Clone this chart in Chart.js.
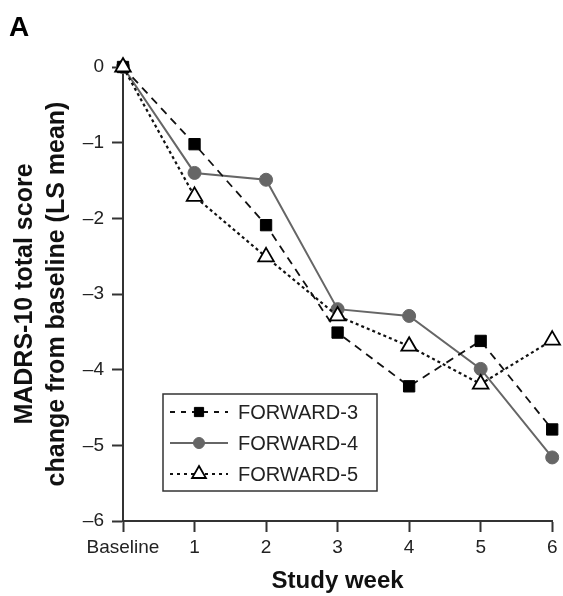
<!DOCTYPE html>
<html lang="en">
<head>
<meta charset="utf-8">
<title>MADRS-10 change from baseline</title>
<script src="https://cdn.jsdelivr.net/npm/chart.js"></script>
<style>
  html,body{margin:0;padding:0;background:#fff;}
  #wrap{position:relative;width:563px;height:596px;}
  #panel{position:absolute;left:9px;top:11px;font:bold 28px "Liberation Sans",Arial,sans-serif;color:#000;line-height:32px;}
  canvas{display:block;}
</style>
</head>
<body>
<div id="wrap">
  <div id="panel">A</div>
  <canvas id="myChart" width="563" height="596"></canvas>
</div>
<script>
/* ── data ─────────────────────────────────────────── */
const weekLabels = ['Baseline', '1', '2', '3', '4', '5', '6'];
const forward3 = [0, -1.02, -2.09, -3.51, -4.22, -3.62, -4.79];
const forward4 = [0, -1.40, -1.49, -3.20, -3.29, -3.99, -5.16];
const forward5 = [0, -1.71, -2.51, -3.29, -3.69, -4.19, -3.61];
const seriesNames = ['FORWARD-3', 'FORWARD-4', 'FORWARD-5'];

const FONT = '"Liberation Sans", Arial, sans-serif';
const AXIS = '#333';

/* ── legend drawn inside the plot box ─────────────── */
const legendMarks = [
  {radius: 6.5, dash: [5, 6]},
  {radius: 5.5, dash: []},
  {radius: 8,   dash: [3, 4]}
];
const boxLegend = {
  id: 'boxLegend',
  afterDatasetsDraw(chart){
    const ctx = chart.ctx;
    const x0 = 163, y0 = 394, w = 214, h = 97;
    ctx.save();
    ctx.fillStyle = '#fff';
    ctx.fillRect(x0, y0, w, h);
    ctx.strokeStyle = '#333';
    ctx.lineWidth = 1.5;
    ctx.strokeRect(x0, y0, w, h);
    chart.data.datasets.forEach((ds, i) => {
      const yy = y0 + 18 + i * 31;
      const m = legendMarks[i];
      ctx.beginPath();
      ctx.setLineDash(m.dash);
      ctx.strokeStyle = ds.borderColor;
      ctx.lineWidth = ds.borderWidth;
      ctx.moveTo(x0 + 7, yy);
      ctx.lineTo(x0 + 65, yy);
      ctx.stroke();
      ctx.setLineDash([]);
      ctx.fillStyle = ds.pointBackgroundColor;
      ctx.strokeStyle = ds.pointBorderColor;
      ctx.lineWidth = ds.pointBorderWidth || 1;
      Chart.helpers.drawPoint(ctx, {
        pointStyle: ds.pointStyle, radius: m.radius,
        borderWidth: ds.pointBorderWidth || 1, rotation: 0
      }, x0 + 36, yy);
      ctx.fillStyle = '#222';
      ctx.font = '20px ' + FONT;
      ctx.textBaseline = 'middle';
      ctx.fillText(ds.label, x0 + 75, yy + 1);
    });
    ctx.restore();
  }
};

const ctx = document.getElementById('myChart');
const chart = new Chart(ctx, {
  type: 'line',
  data: {
    labels: weekLabels,
    datasets: [
      {
        label: seriesNames[0], data: forward3, order: 1,
        borderColor: '#111', borderWidth: 1.8, borderDash: [8, 6],
        pointStyle: 'rect', pointRadius: 8,
        pointBackgroundColor: '#000', pointBorderColor: '#000', pointBorderWidth: 1,
        clip: false, tension: 0
      },
      {
        label: seriesNames[1], data: forward4, order: 2,
        borderColor: '#666', borderWidth: 2,
        pointStyle: 'circle', pointRadius: 6.5,
        pointBackgroundColor: '#666', pointBorderColor: '#666', pointBorderWidth: 1,
        clip: false, tension: 0
      },
      {
        label: seriesNames[2], data: forward5, order: 0,
        borderColor: '#111', borderWidth: 2.2, borderDash: [3, 3],
        pointStyle: 'triangle', pointRadius: 9,
        pointBackgroundColor: '#fff', pointBorderColor: '#000', pointBorderWidth: 1.8,
        clip: false, tension: 0
      }
    ]
  },
  options: {
    responsive: false,
    animation: false,
    layout: {padding: {top: 67, right: 10, left: 0, bottom: 0}},
    plugins: {legend: {display: false}, tooltip: {enabled: false}},
    scales: {
      x: {
        type: 'category', offset: false,
        afterFit: s => { s.height = 75; },
        border: {display: true, color: AXIS, width: 2},
        grid: {display: true, drawOnChartArea: false, drawTicks: true, tickLength: 11, tickColor: AXIS, tickWidth: 2},
        ticks: {color: '#222', font: {family: FONT, size: 19}, padding: 4, maxRotation: 0, autoSkip: false},
        title: {display: true, text: 'Study week', color: '#111', font: {family: FONT, size: 24, weight: 'bold'}, padding: {top: 4, bottom: 0}}
      },
      y: {
        min: -6, max: 0,
        afterFit: s => { s.width = 123; },
        border: {display: true, color: AXIS, width: 2},
        grid: {display: true, drawOnChartArea: false, drawTicks: true, tickLength: 11, tickColor: AXIS, tickWidth: 2},
        ticks: {
          stepSize: 1, color: '#222', font: {family: FONT, size: 19}, padding: 8,
          callback: v => v === 0 ? '0' : '\u2013' + Math.abs(v)
        },
        title: {
          display: true, text: ['MADRS-10 total score', 'change from baseline (LS mean)'],
          color: '#111', font: {family: FONT, size: 25, weight: 'bold', lineHeight: 1.28},
          padding: {top: 9, bottom: 0}
        }
      }
    }
  },
  plugins: [boxLegend]
});
</script>
</body>
</html>
